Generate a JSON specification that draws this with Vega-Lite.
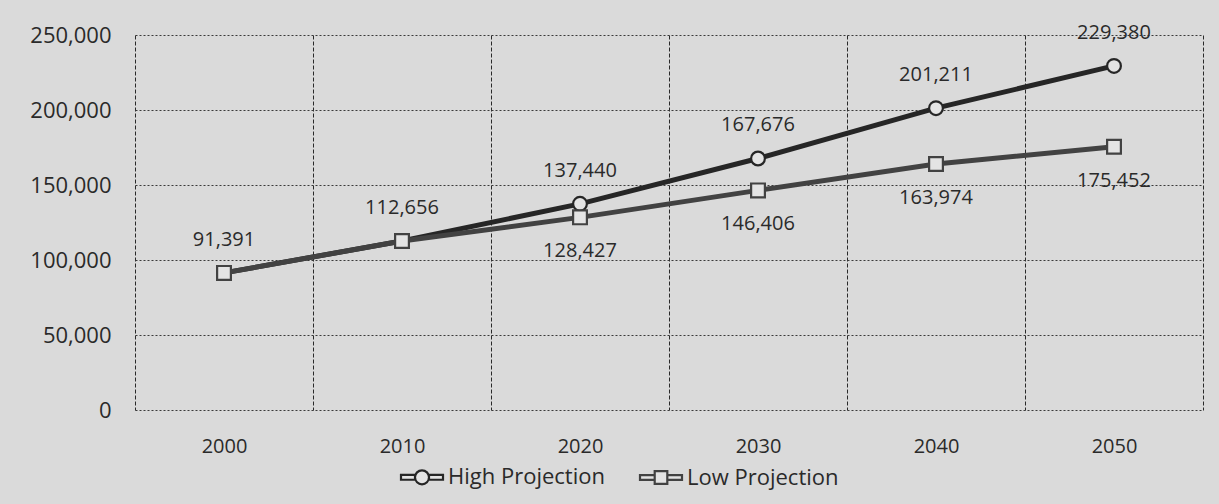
{
  "$schema": "https://vega.github.io/schema/vega-lite/v6.json",
  "width": 1068,
  "height": 375,
  "autosize": {"type": "none"},
  "padding": {"left": 135, "top": 35, "right": 16, "bottom": 94},
  "background": "#dadada",
  "config": {
    "view": {"stroke": null},
    "font": "Open Sans",
    "axis": {"labelFont": "Open Sans", "labelFontSize": 20, "labelColor": "#2a2a2a"},
    "legend": {"labelFont": "Open Sans", "labelFontSize": 22, "labelColor": "#2a2a2a"}
  },
  "data": {
    "values": [
      {"year": "2000", "series": "High Projection", "value": 91391},
      {"year": "2010", "series": "High Projection", "value": 112656},
      {"year": "2020", "series": "High Projection", "value": 137440},
      {"year": "2030", "series": "High Projection", "value": 167676},
      {"year": "2040", "series": "High Projection", "value": 201211},
      {"year": "2050", "series": "High Projection", "value": 229380},
      {"year": "2000", "series": "Low Projection", "value": 91391},
      {"year": "2010", "series": "Low Projection", "value": 112656},
      {"year": "2020", "series": "Low Projection", "value": 128427},
      {"year": "2030", "series": "Low Projection", "value": 146406},
      {"year": "2040", "series": "Low Projection", "value": 163974},
      {"year": "2050", "series": "Low Projection", "value": 175452}
    ]
  },
  "encoding": {
    "x": {
      "field": "year",
      "type": "ordinal",
      "scale": {"type": "band", "paddingInner": 0, "paddingOuter": 0},
      "axis": {
        "title": null,
        "labelAngle": 0,
        "tickBand": "extent",
        "grid": true,
        "gridColor": "#2a2a2a",
        "gridDash": [4, 2],
        "gridWidth": 1,
        "ticks": false,
        "domain": false,
        "labelPadding": 26
      }
    },
    "y": {
      "field": "value",
      "type": "quantitative",
      "scale": {"domain": [0, 250000], "nice": false},
      "axis": {
        "title": null,
        "values": [0, 50000, 100000, 150000, 200000, 250000],
        "format": ",.0f",
        "labelFontSize": 22,
        "grid": true,
        "gridColor": "#3a3a3a",
        "gridDash": [2, 2],
        "gridWidth": 1,
        "ticks": false,
        "domain": false,
        "labelPadding": 24
      }
    }
  },
  "layer": [
    {
      "mark": {"type": "line", "strokeWidth": 5},
      "encoding": {
        "stroke": {
          "field": "series",
          "type": "nominal",
          "scale": {"domain": ["High Projection", "Low Projection"], "range": ["#262626", "#424242"]},
          "legend": {
            "title": null,
            "orient": "none",
            "legendX": 276,
            "legendY": 431,
            "direction": "horizontal",
            "columnPadding": 30,
            "labelOffset": 15,
            "symbolSize": 196,
            "symbolStrokeWidth": 2.2,
            "symbolFillColor": "#e4e4e4",
            "symbolType": "M-3,-0.35L-1,-0.35L-1,0.35L-3,0.35Z M1,-0.35L3,-0.35L3,0.35L1,0.35Z M-1,0A1,1 0 1,0 1,0A1,1 0 1,0 -1,0Z",
            "encode": {
              "symbols": {
                "update": {
                  "shape": {"signal": "datum.value == 'High Projection' ? 'M-3,-0.35L-1,-0.35L-1,0.35L-3,0.35Z M1,-0.35L3,-0.35L3,0.35L1,0.35Z M-1,0A1,1 0 1,0 1,0A1,1 0 1,0 -1,0Z' : 'M-3,-0.35L-0.9,-0.35L-0.9,0.35L-3,0.35Z M0.9,-0.35L3,-0.35L3,0.35L0.9,0.35Z M-0.9,-0.9L0.9,-0.9L0.9,0.9L-0.9,0.9Z'"}
                }
              }
            }
          }
        }
      }
    },
    {
      "transform": [{"filter": "datum.series == 'High Projection'"}],
      "mark": {"type": "point", "shape": "circle", "filled": false, "fill": "#e4e4e4", "fillOpacity": 1, "size": 190, "strokeWidth": 2.2},
      "encoding": {
        "stroke": {"field": "series", "type": "nominal", "legend": null}
      }
    },
    {
      "transform": [{"filter": "datum.series == 'Low Projection'"}],
      "mark": {"type": "point", "shape": "square", "filled": false, "fill": "#e4e4e4", "fillOpacity": 1, "size": 190, "strokeWidth": 2.2},
      "encoding": {
        "stroke": {"field": "series", "type": "nominal", "legend": null}
      }
    },
    {
      "transform": [{"filter": "datum.series == 'High Projection'"}],
      "mark": {"type": "text", "dy": -33, "fontSize": 20, "color": "#2a2a2a", "font": "Open Sans"},
      "encoding": {"text": {"field": "value", "type": "quantitative", "format": ","}}
    },
    {
      "transform": [{"filter": "datum.series == 'Low Projection' && datum.year >= '2020'"}],
      "mark": {"type": "text", "dy": 34, "fontSize": 20, "color": "#2a2a2a", "font": "Open Sans"},
      "encoding": {"text": {"field": "value", "type": "quantitative", "format": ","}}
    }
  ]
}
